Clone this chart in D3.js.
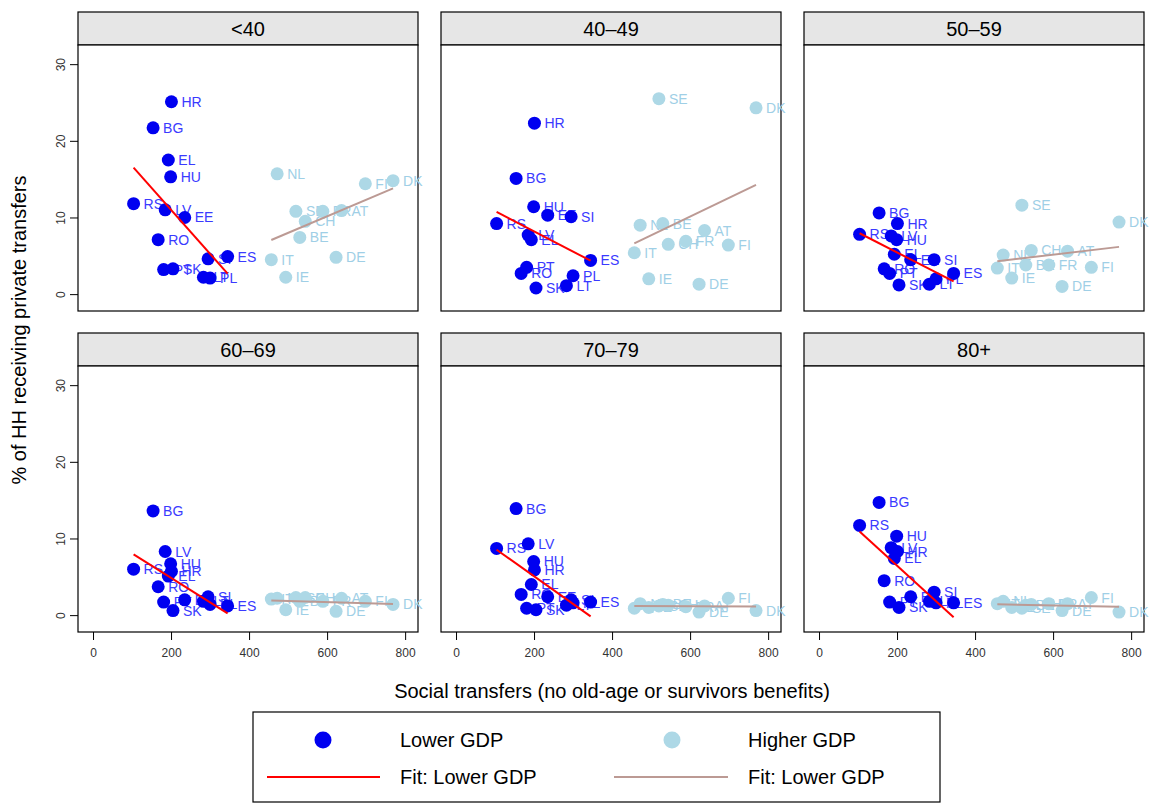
<!DOCTYPE html>
<html>
<head>
<meta charset="utf-8">
<script src="https://cdn.jsdelivr.net/npm/d3@7"></script>
<style>
  body { margin: 0; background: #fff; }
  text { font-family: "Liberation Sans", Arial, sans-serif; }
</style>
</head>
<body>
<svg width="1149" height="803"></svg>
<script>
// age groups, one panel each
const ageGroups = ["<40", "40–49", "50–59", "60–69", "70–79", "80+"];

// lower GDP countries and their social transfers
const lowCountries = ["RS", "BG", "RO", "PT", "LV", "EL", "HU", "HR", "SK", "EE", "LT", "SI", "PL", "ES"];
const lowTransfers = [104, 154, 167, 181, 185, 193, 199, 201, 205, 235, 283, 295, 300, 345];
// % of HH receiving private transfers, rows follow ageGroups
const lowShare = [
  [11.8, 21.7, 7.1, 3.2, 11.0, 17.5, 15.3, 25.1, 3.3, 10.0, 2.2, 4.6, 2.1, 4.9],
  [9.2, 15.1, 2.7, 3.5, 7.7, 7.1, 11.4, 22.3, 0.8, 10.3, 1.1, 10.1, 2.4, 4.4],
  [7.8, 10.6, 3.3, 2.7, 7.6, 5.2, 7.1, 9.2, 1.2, 4.5, 1.3, 4.5, 2.0, 2.7],
  [6.0, 13.6, 3.7, 1.7, 8.3, 5.1, 6.7, 5.7, 0.6, 2.0, 1.8, 2.4, 1.4, 1.2],
  [8.7, 13.9, 2.7, 0.9, 9.3, 4.0, 7.0, 5.9, 0.7, 2.4, 1.3, 2.0, 1.6, 1.7],
  [11.7, 14.7, 4.5, 1.7, 8.8, 7.4, 10.3, 8.3, 1.0, 2.4, 1.8, 3.0, 1.6, 1.6]
];

// higher GDP countries
const highCountries = ["IT", "NL", "IE", "SE", "BE", "CH", "FR", "DE", "AT", "FI", "DK"];
const highTransfers = [457, 472, 494, 520, 530, 544, 589, 623, 637, 698, 769];
const highShare = [
  [4.5, 15.7, 2.2, 10.8, 7.4, 9.5, 10.8, 4.8, 10.9, 14.4, 14.8],
  [5.4, 9.0, 2.0, 25.5, 9.2, 6.5, 6.9, 1.3, 8.3, 6.4, 24.3],
  [3.4, 5.1, 2.1, 11.6, 3.8, 5.7, 3.8, 1.0, 5.6, 3.5, 9.4],
  [2.1, 2.2, 0.7, 2.3, 1.8, 2.3, 1.8, 0.5, 2.2, 1.8, 1.4],
  [0.9, 1.5, 1.0, 1.2, 1.4, 1.3, 1.1, 0.4, 1.2, 2.2, 0.6],
  [1.5, 1.8, 1.0, 0.9, 1.3, 1.4, 1.5, 0.6, 1.5, 2.3, 0.4]
];

const xTicks = [0, 200, 400, 600, 800];
const yTicks = [0, 10, 20, 30];

const lowColor = "#0000f0", highColor = "#add8e6";
const lowFit = "#ff0000", highFit = "#bc9a94";

const svg = d3.select("svg");

// panel geometry
const colLeft = [78, 441, 804];
const rowTop = [12, 333];
const panelW = 340, stripH = 33, plotH = 266;

const x = d3.scaleLinear().domain([-38.5, 833]).range([0, panelW]);
const y = d3.scaleLinear().domain([-2.2, 32.5]).range([plotH, 0]);

// simple least squares fit
function fit(xs, ys) {
  const mx = d3.mean(xs), my = d3.mean(ys);
  let sxy = 0, sxx = 0;
  xs.forEach((v, i) => { sxy += (v - mx) * (ys[i] - my); sxx += (v - mx) * (v - mx); });
  const b = sxy / sxx, a = my - b * mx;
  const x0 = d3.min(xs), x1 = d3.max(xs);
  return [[x0, a + b * x0], [x1, a + b * x1]];
}

ageGroups.forEach((g, gi) => {
  const col = gi % 3, row = Math.floor(gi / 3);
  const panel = svg.append("g")
    .attr("transform", "translate(" + colLeft[col] + "," + rowTop[row] + ")");

  // strip
  panel.append("rect")
    .attr("width", panelW).attr("height", stripH)
    .attr("fill", "#e6e6e6").attr("stroke", "#000").attr("stroke-width", 1.2);
  panel.append("text")
    .attr("x", panelW / 2).attr("y", stripH / 2 + 7)
    .attr("text-anchor", "middle").style("font-size", "20px")
    .text(g);

  const plot = panel.append("g").attr("transform", "translate(0," + stripH + ")");
  plot.append("rect")
    .attr("width", panelW).attr("height", plotH)
    .attr("fill", "#fff").attr("stroke", "#000").attr("stroke-width", 1.2);

  if (col == 0) {
    const ya = plot.append("g")
      .call(d3.axisLeft(y).tickValues(yTicks).tickSize(8));
    ya.select(".domain").remove();
    ya.selectAll("line").attr("stroke", "#000");
    // labels turned upright along the axis, as in the original
    ya.selectAll("text")
      .attr("x", 0).attr("y", 0).attr("dy", 0)
      .attr("transform", "translate(-13,0) rotate(-90)")
      .attr("text-anchor", "middle")
      .style("font-size", "12px").attr("fill", "#333");
  }
  if (row == 1) {
    const xa = plot.append("g")
      .attr("transform", "translate(0," + plotH + ")")
      .call(d3.axisBottom(x).tickValues(xTicks).tickSize(8).tickPadding(8));
    xa.select(".domain").remove();
    xa.selectAll("line").attr("stroke", "#000");
    xa.selectAll("text").style("font-size", "12px").attr("fill", "#333");
  }

  // scatter, lower GDP then higher GDP
  const series = [
    { names: lowCountries, xs: lowTransfers, ys: lowShare[gi], color: lowColor, label: "#3a3aff" },
    { names: highCountries, xs: highTransfers, ys: highShare[gi], color: highColor, label: "#9fcfe6" }
  ];
  series.forEach(s => {
    const pts = plot.append("g").selectAll("g")
      .data(s.names.map((n, i) => ({ n: n, x: s.xs[i], y: s.ys[i] })))
      .enter().append("g")
      .attr("transform", d => "translate(" + x(d.x) + "," + y(d.y) + ")");
    pts.append("circle").attr("r", 6.5).attr("fill", s.color);
    pts.append("text")
      .attr("x", 10).attr("y", 5)
      .style("font-size", "14px").attr("fill", s.label)
      .text(d => d.n);
  });

  // fit lines
  const line = d3.line().x(d => x(d[0])).y(d => y(d[1]));
  plot.append("path").attr("d", line(fit(lowTransfers, lowShare[gi])))
    .attr("stroke", lowFit).attr("stroke-width", 2).attr("fill", "none");
  plot.append("path").attr("d", line(fit(highTransfers, highShare[gi])))
    .attr("stroke", highFit).attr("stroke-width", 2).attr("fill", "none");
});

// axis titles
svg.append("text")
  .attr("transform", "translate(26,330) rotate(-90)")
  .attr("text-anchor", "middle").style("font-size", "20px")
  .text("% of HH receiving private transfers");
svg.append("text")
  .attr("x", 612).attr("y", 698)
  .attr("text-anchor", "middle").style("font-size", "20px")
  .text("Social transfers (no old-age or survivors benefits)");

// legend
const legend = svg.append("g");
legend.append("rect")
  .attr("x", 253).attr("y", 712).attr("width", 687).attr("height", 90)
  .attr("fill", "#fff").attr("stroke", "#000").attr("stroke-width", 1.2);
legend.append("circle").attr("cx", 323).attr("cy", 740).attr("r", 8.5).attr("fill", lowColor);
legend.append("text").attr("x", 400).attr("y", 747).style("font-size", "20px").text("Lower GDP");
legend.append("circle").attr("cx", 672).attr("cy", 740).attr("r", 8.5).attr("fill", highColor);
legend.append("text").attr("x", 748).attr("y", 747).style("font-size", "20px").text("Higher GDP");
legend.append("line").attr("x1", 267).attr("x2", 380).attr("y1", 777).attr("y2", 777)
  .attr("stroke", lowFit).attr("stroke-width", 2);
legend.append("text").attr("x", 400).attr("y", 784).style("font-size", "20px").text("Fit: Lower GDP");
legend.append("line").attr("x1", 614).attr("x2", 728).attr("y1", 777).attr("y2", 777)
  .attr("stroke", highFit).attr("stroke-width", 2);
legend.append("text").attr("x", 748).attr("y", 784).style("font-size", "20px").text("Fit: Lower GDP");
</script>
</body>
</html>
